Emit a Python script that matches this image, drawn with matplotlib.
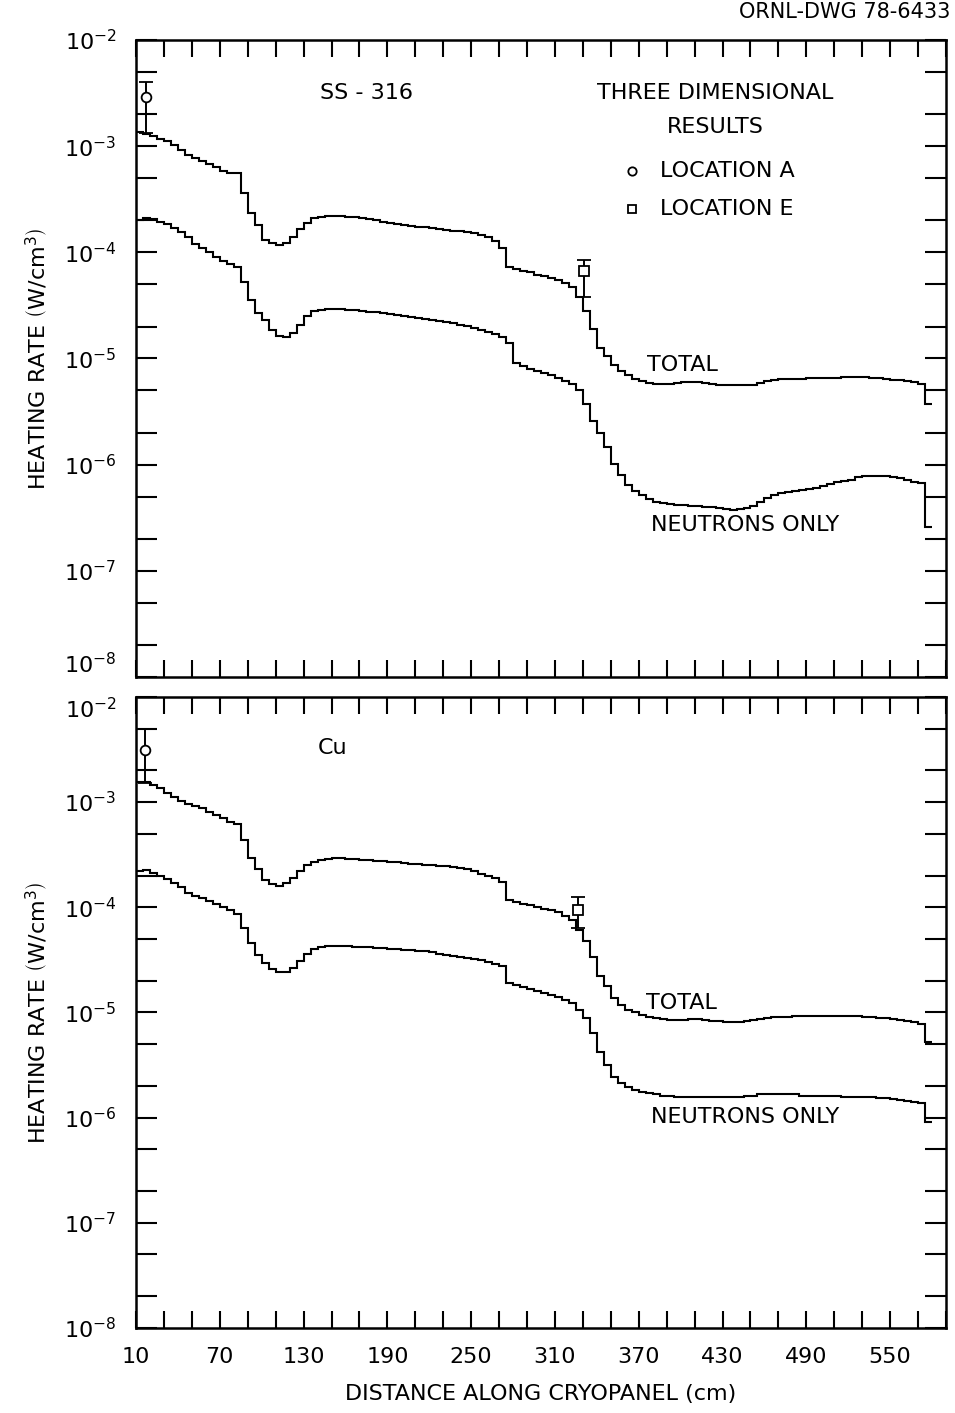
import matplotlib
matplotlib.use("Agg")
import matplotlib.pyplot as plt
import numpy as np
from matplotlib.ticker import NullFormatter

plt.rcParams['font.family'] = ['DejaVu Sans']
plt.rcParams['mathtext.fontset'] = 'dejavusans'

# 5 cm mesh along the cryopanel (bin edges, cm)
edges = np.arange(10, 581, 5)

# heating rates, as log10 (W/cm^3), one value per 5 cm bin
ss_total_exp = [
    -2.87, -2.89, -2.90, -2.93, -2.95, -2.99, -3.04, -3.08, -3.11, -3.14,
    -3.17, -3.20, -3.23, -3.25, -3.25, -3.44, -3.63, -3.74, -3.88, -3.91,
    -3.93, -3.91, -3.86, -3.78, -3.72, -3.68, -3.67, -3.66, -3.66, -3.66,
    -3.67, -3.67, -3.68, -3.69, -3.70, -3.71, -3.72, -3.73, -3.74, -3.75,
    -3.76, -3.76, -3.77, -3.78, -3.79, -3.80, -3.80, -3.81, -3.82, -3.84,
    -3.86, -3.89, -3.96, -4.14, -4.16, -4.18, -4.19, -4.21, -4.22, -4.24,
    -4.26, -4.29, -4.33, -4.42, -4.55, -4.72, -4.90, -4.98, -5.06, -5.12,
    -5.16, -5.19, -5.21, -5.23, -5.24, -5.24, -5.24, -5.23, -5.22, -5.22,
    -5.22, -5.23, -5.24, -5.25, -5.25, -5.25, -5.25, -5.25, -5.25, -5.23,
    -5.21, -5.20, -5.19, -5.19, -5.19, -5.19, -5.18, -5.18, -5.18, -5.18,
    -5.18, -5.17, -5.17, -5.17, -5.17, -5.18, -5.18, -5.19, -5.20, -5.20,
    -5.21, -5.22, -5.24, -5.43]
ss_neutron_exp = [
    -3.70, -3.68, -3.69, -3.71, -3.73, -3.77, -3.81, -3.86, -3.92, -3.96,
    -4.00, -4.04, -4.08, -4.11, -4.14, -4.28, -4.45, -4.57, -4.64, -4.73,
    -4.79, -4.80, -4.76, -4.68, -4.60, -4.55, -4.54, -4.53, -4.53, -4.53,
    -4.54, -4.54, -4.55, -4.56, -4.56, -4.57, -4.58, -4.59, -4.60, -4.61,
    -4.62, -4.63, -4.64, -4.65, -4.66, -4.67, -4.68, -4.69, -4.71, -4.73,
    -4.75, -4.77, -4.80, -4.85, -5.04, -5.07, -5.10, -5.12, -5.14, -5.16,
    -5.18, -5.21, -5.24, -5.30, -5.43, -5.59, -5.70, -5.83, -5.99, -6.10,
    -6.19, -6.25, -6.29, -6.32, -6.35, -6.36, -6.37, -6.38, -6.38, -6.39,
    -6.39, -6.40, -6.40, -6.41, -6.42, -6.43, -6.42, -6.41, -6.39, -6.35,
    -6.31, -6.29, -6.27, -6.26, -6.25, -6.24, -6.23, -6.22, -6.20, -6.18,
    -6.16, -6.15, -6.14, -6.12, -6.11, -6.11, -6.11, -6.11, -6.12, -6.13,
    -6.14, -6.16, -6.17, -6.59]
cu_total_exp = [
    -2.81, -2.81, -2.84, -2.87, -2.91, -2.95, -2.99, -3.02, -3.04, -3.06,
    -3.09, -3.12, -3.15, -3.19, -3.21, -3.36, -3.53, -3.64, -3.74, -3.78,
    -3.80, -3.77, -3.72, -3.66, -3.60, -3.57, -3.55, -3.54, -3.53, -3.53,
    -3.54, -3.54, -3.55, -3.55, -3.56, -3.56, -3.57, -3.57, -3.58, -3.59,
    -3.59, -3.60, -3.60, -3.61, -3.61, -3.62, -3.63, -3.64, -3.66, -3.68,
    -3.70, -3.72, -3.76, -3.93, -3.95, -3.97, -3.98, -4.00, -4.02, -4.03,
    -4.05, -4.08, -4.12, -4.22, -4.32, -4.47, -4.65, -4.75, -4.86, -4.93,
    -4.98, -5.00, -5.02, -5.04, -5.05, -5.06, -5.07, -5.07, -5.07, -5.06,
    -5.06, -5.07, -5.08, -5.08, -5.09, -5.09, -5.09, -5.08, -5.07, -5.06,
    -5.05, -5.04, -5.04, -5.04, -5.03, -5.03, -5.03, -5.03, -5.03, -5.03,
    -5.03, -5.03, -5.03, -5.03, -5.04, -5.04, -5.05, -5.05, -5.06, -5.07,
    -5.08, -5.09, -5.11, -5.28]
cu_neutron_exp = [
    -3.66, -3.65, -3.67, -3.70, -3.73, -3.77, -3.81, -3.86, -3.89, -3.91,
    -3.94, -3.97, -4.00, -4.03, -4.06, -4.20, -4.34, -4.45, -4.53, -4.59,
    -4.62, -4.62, -4.58, -4.51, -4.44, -4.40, -4.38, -4.37, -4.37, -4.37,
    -4.37, -4.38, -4.38, -4.38, -4.39, -4.39, -4.40, -4.40, -4.41, -4.41,
    -4.42, -4.42, -4.43, -4.44, -4.45, -4.46, -4.47, -4.48, -4.49, -4.50,
    -4.52, -4.54, -4.56, -4.72, -4.74, -4.76, -4.78, -4.80, -4.82, -4.83,
    -4.85, -4.88, -4.91, -4.98, -5.05, -5.20, -5.38, -5.50, -5.61, -5.67,
    -5.71, -5.74, -5.76, -5.77, -5.78, -5.79, -5.79, -5.80, -5.80, -5.80,
    -5.80, -5.80, -5.80, -5.80, -5.80, -5.80, -5.80, -5.79, -5.79, -5.78,
    -5.78, -5.78, -5.78, -5.78, -5.78, -5.79, -5.79, -5.79, -5.79, -5.79,
    -5.79, -5.80, -5.80, -5.80, -5.80, -5.80, -5.81, -5.81, -5.82, -5.83,
    -5.84, -5.85, -5.86, -6.04]

# 3-D results: position (cm), value, lower, upper
ss_loc_a = [17.5, 2.9e-3, 1.33e-3, 4.0e-3]
ss_loc_e = [330.5, 6.6e-5, 3.8e-5, 8.5e-5]
cu_loc_a = [16.5, 3.1e-3, 1.52e-3, 4.9e-3]
cu_loc_e = [326.5, 9.4e-5, 6.4e-5, 1.26e-4]

x_ticks = list(range(10, 591, 20))
x_tick_labels = ['10', '', '', '70', '', '', '130', '', '', '190', '', '',
                 '250', '', '', '310', '', '', '370', '', '', '430', '', '',
                 '490', '', '', '550', '', '']
y_major = [1e-8, 1e-7, 1e-6, 1e-5, 1e-4, 1e-3, 1e-2]
y_minor = [m * d for d in y_major[:-1] for m in (2, 5)]

fig = plt.figure(figsize=(9.55, 14.13), dpi=100)
ax1 = fig.add_axes([0.1424, 0.5209, 0.8482, 0.4508])
ax2 = fig.add_axes([0.1424, 0.0602, 0.8482, 0.4466])

fs = 16
panels = [(ax1, ss_total_exp, ss_neutron_exp, ss_loc_a, ss_loc_e),
          (ax2, cu_total_exp, cu_neutron_exp, cu_loc_a, cu_loc_e)]
for ax, tot, neu, pa, pe in panels:
    ax.stairs(10 ** np.array(tot), edges, baseline=None, color='k', lw=1.5)
    ax.stairs(10 ** np.array(neu), edges, baseline=None, color='k', lw=1.5)
    for p, mk in ((pa, 'o'), (pe, 's')):
        ax.errorbar([p[0]], [p[1]], yerr=[[p[1] - p[2]], [p[3] - p[1]]],
                    fmt=mk, ms=7, mfc='white', mec='k', mew=1.3, ecolor='k',
                    elinewidth=1.4, capsize=5, capthick=1.4, zorder=5)
    ax.set_yscale('log')
    ax.set_ylim(1e-8, 1e-2)
    ax.set_xlim(10, 590)
    ax.set_yticks(y_major)
    ax.set_yticks(y_minor, minor=True)
    ax.yaxis.set_minor_formatter(NullFormatter())
    ax.set_xticks(x_ticks)
    ax.set_xticklabels(x_tick_labels)
    ax.tick_params(which='both', direction='in', top=True, right=True,
                   width=1.5, labelsize=fs, color='k')
    ax.tick_params(axis='y', which='both', length=15, pad=14)
    ax.tick_params(axis='x', which='both', length=12, pad=14)
    for s in ax.spines.values():
        s.set_linewidth(1.8)
    ax.set_ylabel(r'HEATING RATE $\left(\mathrm{W/cm^{3}}\right)$',
                  fontsize=fs, labelpad=10)

ax1.tick_params(axis='x', labelbottom=False)
ax2.set_xlabel('DISTANCE ALONG CRYOPANEL (cm)', fontsize=fs, labelpad=12)

# keep the 10^-8 / 10^-2 labels at the panel join apart
ax1.get_yticklabels()[0].set_va('bottom')
ax2.get_yticklabels()[-1].set_va('top')

# annotations, upper panel
ax1.text(0.284, 0.917, 'SS - 316', transform=ax1.transAxes, fontsize=fs,
         ha='center', va='center')
ax1.text(0.715, 0.917, 'THREE DIMENSIONAL', transform=ax1.transAxes,
         fontsize=fs, ha='center', va='center')
ax1.text(0.715, 0.863, 'RESULTS', transform=ax1.transAxes, fontsize=fs,
         ha='center', va='center')
ax1.plot([0.612], [0.794], 'o', ms=6, mfc='white', mec='k', mew=1.3,
         transform=ax1.transAxes)
ax1.plot([0.612], [0.735], 's', ms=6, mfc='white', mec='k', mew=1.3,
         transform=ax1.transAxes)
ax1.text(0.647, 0.794, 'LOCATION A', transform=ax1.transAxes, fontsize=fs,
         ha='left', va='center')
ax1.text(0.647, 0.735, 'LOCATION E', transform=ax1.transAxes, fontsize=fs,
         ha='left', va='center')
ax1.text(0.675, 0.490, 'TOTAL', transform=ax1.transAxes, fontsize=fs,
         ha='center', va='center')
ax1.text(0.752, 0.239, 'NEUTRONS ONLY', transform=ax1.transAxes, fontsize=fs,
         ha='center', va='center')

# annotations, lower panel
ax2.text(0.243, 0.919, 'Cu', transform=ax2.transAxes, fontsize=fs,
         ha='center', va='center')
ax2.text(0.673, 0.515, 'TOTAL', transform=ax2.transAxes, fontsize=fs,
         ha='center', va='center')
ax2.text(0.752, 0.334, 'NEUTRONS ONLY', transform=ax2.transAxes, fontsize=fs,
         ha='center', va='center')

fig.text(0.995, 0.9915, 'ORNL-DWG 78-6433', fontsize=15, ha='right',
         va='center')

fig.savefig('out.png', dpi=100)
